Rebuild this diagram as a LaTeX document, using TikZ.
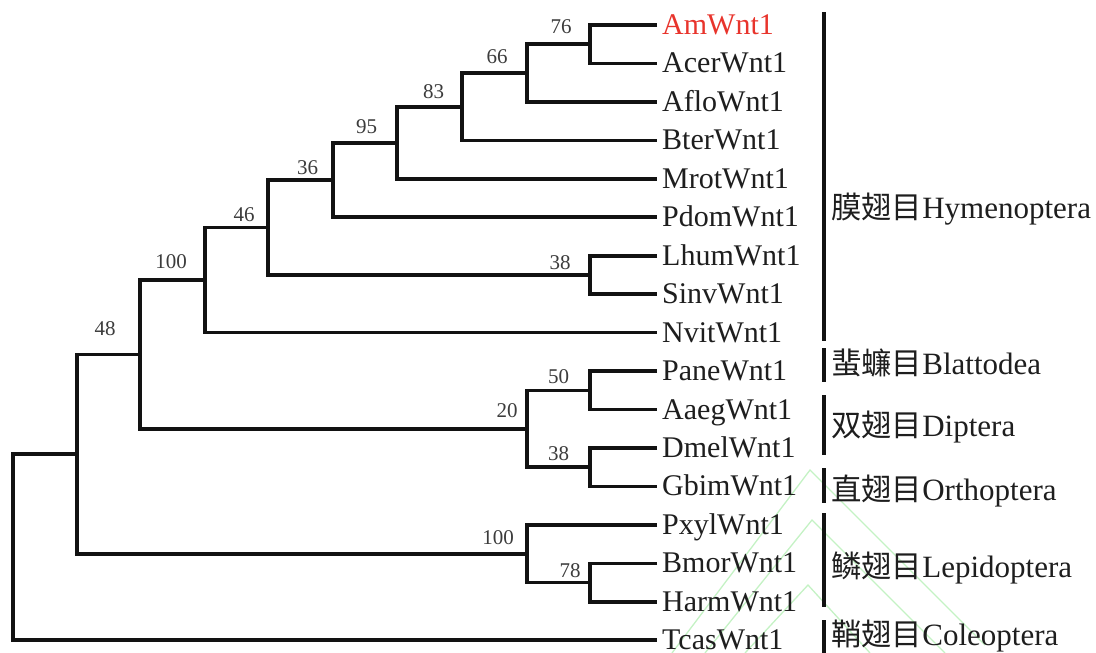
\documentclass[tikz,border=0pt]{standalone}
\usepackage{fontspec}
\setmainfont{Liberation Serif}
\newfontfamily\cjk{Noto Sans CJK SC}[Scale=0.98]
\definecolor{txt}{HTML}{1E1E1E}
\definecolor{lbl}{HTML}{3C3C3C}
\definecolor{hl}{HTML}{E8342C}
\definecolor{wm}{HTML}{C4F2C4}
\tikzset{
  branch/.style={line width=3.6pt, draw=black!93},
  leaf/.style={anchor=base west, inner sep=0pt, text=txt, font=\fontsize{30}{31}\selectfont},
  boot/.style={anchor=base, inner sep=0pt, text=lbl, font=\fontsize{21}{22}\selectfont},
  grp/.style={anchor=base west, inner sep=0pt, text=txt, font=\fontsize{31}{32}\selectfont},
  bar/.style={line width=3.6pt, draw=black!93},
  wmark/.style={draw=wm, line width=1.3pt}
}
\begin{document}
\begin{tikzpicture}[x=1pt,y=-1pt]
\useasboundingbox (0,0) rectangle (1096,653);
% faint watermark lines
\draw[wmark] (672,653) -- (810,470) -- (985,645);
\draw[wmark] (705,653) -- (812,520) -- (945,653);
\draw[wmark] (745,653) -- (808,585) -- (870,653);
% leaf ends
\foreach \n/\i in {Am/0,Acer/1,Aflo/2,Bter/3,Mrot/4,Pdom/5,Lhum/6,Sinv/7,Nvit/8,Pane/9,Aaeg/10,Dmel/11,Gbim/12,Pxyl/13,Bmor/14,Harm/15,Tcas/16}{
  \coordinate (e\n) at (657,{25+38.45*\i});
}
% leaf labels
\node[leaf, text=hl] (tAm) at (662,34.5) {AmWnt1};
\foreach \n/\i in {Acer/1,Aflo/2,Bter/3,Mrot/4,Pdom/5,Lhum/6,Sinv/7,Nvit/8,Pane/9,Aaeg/10,Dmel/11,Gbim/12,Pxyl/13,Bmor/14,Harm/15,Tcas/16}{
  \node[leaf] (t\n) at (662,{34.5+38.45*\i}) {\n Wnt1};
}
% internal nodes
\coordinate (n76) at (590,44.2);
\coordinate (n66) at (527,73.05);
\coordinate (n83) at (462,106.7);
\coordinate (n95) at (397,142.75);
\coordinate (n36) at (333,180);
\coordinate (n38a) at (590,274.9);
\coordinate (n46) at (268,227.45);
\coordinate (n100a) at (205,280);
\coordinate (n50) at (590,390.3);
\coordinate (n38b) at (590,467.2);
\coordinate (n20) at (527,428.7);
\coordinate (n48) at (140,354.4);
\coordinate (n78) at (590,582.5);
\coordinate (n100b) at (527,553.7);
\coordinate (nX) at (77,454);
\coordinate (root) at (13,547);
% branches
\draw[branch] (eAm) -| (n76) |- (eAcer);
\draw[branch] (n76) -| (n66) |- (eAflo);
\draw[branch] (n66) -| (n83) |- (eBter);
\draw[branch] (n83) -| (n95) |- (eMrot);
\draw[branch] (n95) -| (n36) |- (ePdom);
\draw[branch] (eLhum) -| (n38a) |- (eSinv);
\draw[branch] (n36) -| (n46) |- (n38a);
\draw[branch] (n46) -| (n100a) |- (eNvit);
\draw[branch] (ePane) -| (n50) |- (eAaeg);
\draw[branch] (eDmel) -| (n38b) |- (eGbim);
\draw[branch] (n50) -| (n20) |- (n38b);
\draw[branch] (n100a) -| (n48) |- (n20);
\draw[branch] (eBmor) -| (n78) |- (eHarm);
\draw[branch] (ePxyl) -| (n100b) |- (n78);
\draw[branch] (n48) -| (nX) |- (n100b);
\draw[branch] (nX) -| (root) |- (eTcas);
% bootstrap values
\node[boot] (b76) at (561,33) {76};
\node[boot] (b66) at (497,63) {66};
\node[boot] (b83) at (433.5,98) {83};
\node[boot] (b95) at (366.5,133) {95};
\node[boot] (b36) at (307.5,174) {36};
\node[boot] (b46) at (244,221) {46};
\node[boot] (b100a) at (171,268) {100};
\node[boot] (b48) at (105,335) {48};
\node[boot] (b38a) at (560,269) {38};
\node[boot] (b50) at (558.5,383) {50};
\node[boot] (b20) at (507,417) {20};
\node[boot] (b38b) at (558.5,460) {38};
\node[boot] (b100b) at (498,544) {100};
\node[boot] (b78) at (570,577) {78};
% group bars
\draw[bar] (824,12) -- (824,341);
\draw[bar] (824,348) -- (824,382);
\draw[bar] (824,395) -- (824,455);
\draw[bar] (824,468) -- (824,503);
\draw[bar] (824,513) -- (824,607);
\draw[bar] (824,620) -- (824,653);
% group labels
\node[grp] (gH) at (831,218) {{\cjk 膜翅目}Hymenoptera};
\node[grp] (gB) at (831,374) {{\cjk 蜚蠊目}Blattodea};
\node[grp] (gD) at (831,436) {{\cjk 双翅目}Diptera};
\node[grp] (gO) at (831,500) {{\cjk 直翅目}Orthoptera};
\node[grp] (gL) at (831,577) {{\cjk 鳞翅目}Lepidoptera};
\node[grp] (gC) at (831,645) {{\cjk 鞘翅目}Coleoptera};
\end{tikzpicture}
\end{document}
